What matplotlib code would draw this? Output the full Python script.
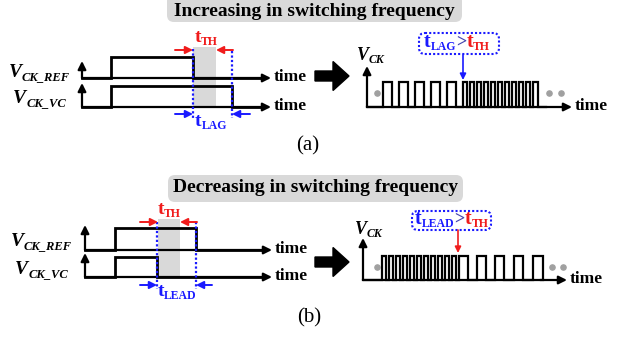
# -*- coding: utf-8 -*-
"""
clock frequency adjustment sketch: lag / lead vs. threshold window
"""
import matplotlib.pyplot as plt
from matplotlib.patches import FancyBboxPatch, Rectangle, FancyArrow

plt.rcParams['font.family'] = ['Liberation Serif', 'DejaVu Serif']

RED = '#f01c1c'
BLUE = '#1a1aff'
SHADE = '#d9d9d9'
DOT = '#a0a0a0'

titles = ['Increasing in switching frequency', 'Decreasing in switching frequency']
tags = ['(a)', '(b)']
phase_names = ['LAG', 'LEAD']
phase_colors = [BLUE, RED]  # colour of the arrow under the tip box

# left sketch: (rise, fall) of the reference clock and the VC clock
ref_edges = [[111, 193], [115, 196]]
vc_edges = [[111, 232], [115, 157]]
th_window = [[193, 216], [158, 180]]

# output clock V_CK, rising / falling edges
ck_rise = [
    [383, 399, 415, 431, 447, 463, 470, 477, 484, 491, 498, 505, 512, 519, 526, 533],
    [382, 389, 396, 403, 410, 417, 424, 431, 438, 445, 452, 459, 477, 495, 514, 533],
]
ck_fall = [
    [392, 408, 424, 440, 456, 467, 474, 481, 488, 495, 502, 509, 516, 523, 530, 538],
    [386, 393, 400, 407, 414, 421, 428, 435, 442, 449, 456, 468, 486, 504, 523, 543],
]

# layout of the two panels (pixels)
lay = [
    dict(box=(167, -6, 295, 28), title_y=12,
         x0=82, ref_lo=78, ref_hi=57, ref_tip=61, vc_lo=107, vc_hi=86, vc_tip=83, x_end=271,
         lab_x=70, lab_y=(77, 103), time_x=274,
         shade=(47, 107), dotted=((49, 118), (51, 118)), th_y=50, th_txt=(206, 42),
         ph_y=114, ph_txt=(211, 126), ph_right=250, th_left=175,
         big_y=76,
         cx0=367, ck_lo=107, ck_hi=82, ck_tip=66, cx_end=572, ctime_x=575,
         vck=(357, 60), dots=((377, 549, 561), 93),
         tipbox=(419, 33, 80, 21), tip_txt=(424, 47), tip_arrow=(463, 55, 80),
         tag=(308, 150)),
    dict(box=(168, 175, 295, 27), title_y=188,
         x0=85, ref_lo=250, ref_hi=228, ref_tip=225, vc_lo=277, vc_hi=257, vc_tip=253, x_end=272,
         lab_x=72, lab_y=(246, 274), time_x=275,
         shade=(219, 277), dotted=((222, 289), (222, 289)), th_y=222, th_txt=(169, 214),
         ph_y=285, ph_txt=(177, 296), ph_right=212, th_left=140,
         big_y=262,
         cx0=363, ck_lo=280, ck_hi=256, ck_tip=238, cx_end=567, ctime_x=570,
         vck=(355, 234), dots=((377, 552, 563), 267),
         tipbox=(412, 211, 79, 19), tip_txt=(415, 224), tip_arrow=(458, 230, 253),
         tag=(309, 322)),
]

fig = plt.figure(figsize=(6.3, 3.39), dpi=100)
ax = fig.add_axes([0, 0, 1, 1])
ax.set_xlim(0, 630)
ax.set_ylim(339, 0)
ax.axis('off')
r = fig.canvas.get_renderer()


def sub_text(x, y, main, sub, color='k', size=14, subsize=8.5, style='normal', ha='left', z=5):
    # letter + lowered subscript, y is the baseline
    kw = dict(color=color, fontweight='bold', fontstyle=style, va='baseline', zorder=z)
    t1 = ax.text(0, y, main, fontsize=size, **kw)
    t2 = ax.text(0, y + size * 0.22, sub, fontsize=subsize, **kw)
    w1 = t1.get_window_extent(r).width
    w2 = t2.get_window_extent(r).width
    if ha == 'center':
        x -= (w1 + w2) / 2
    elif ha == 'right':
        x -= w1 + w2
    t1.set_x(x)
    t2.set_x(x + w1)
    return x + w1 + w2


def arrow(x1, y1, x2, y2, color='k', lw=1.4, ms=11):
    ax.annotate('', xy=(x2, y2), xytext=(x1, y1),
                arrowprops=dict(arrowstyle='-|>', color=color, lw=lw, mutation_scale=ms,
                                shrinkA=0, shrinkB=0), zorder=4)


def step(x0, x_end, lo, hi, rises, falls, lw=2.0):
    xs, ys = [x0], [lo]
    for a, b in zip(rises, falls):
        xs += [a, a, b, b]
        ys += [lo, hi, hi, lo]
    xs.append(x_end - 6)
    ys.append(lo)
    ax.plot(xs, ys, color='k', lw=lw, solid_joinstyle='miter', zorder=3)


for i, L in enumerate(lay):
    # title in grey rounded box
    bx, by, bw, bh = L['box']
    ax.add_patch(FancyBboxPatch((bx, by), bw, bh, boxstyle='round,pad=0,rounding_size=7',
                                fc=SHADE, ec='none', zorder=1))
    ax.text(bx + bw / 2, L['title_y'], titles[i], ha='center', va='center',
            fontsize=14, fontweight='bold', zorder=2)

    # ---- left: the two clocks
    x0 = L['x0']
    s0, s1 = th_window[i]
    ax.add_patch(Rectangle((s0, L['shade'][0]), s1 - s0, L['shade'][1] - L['shade'][0],
                           fc=SHADE, ec='none', zorder=1))
    for lo, tip in [(L['ref_lo'], L['ref_tip']), (L['vc_lo'], L['vc_tip'])]:
        arrow(x0, lo, x0, tip, lw=1.6, ms=12)
        arrow(x0, lo, L['x_end'], lo, lw=1.6, ms=12)
        ax.text(L['time_x'], lo - 1, 'time', fontsize=12.5, fontweight='bold', va='center')
    step(x0, L['x_end'], L['ref_lo'], L['ref_hi'], [ref_edges[i][0]], [ref_edges[i][1]])
    step(x0, L['x_end'], L['vc_lo'], L['vc_hi'], [vc_edges[i][0]], [vc_edges[i][1]])
    sub_text(L['lab_x'], L['lab_y'][0], 'V', 'CK_REF', size=14, subsize=9, style='italic', ha='right')
    sub_text(L['lab_x'] - 4, L['lab_y'][1], 'V', 'CK_VC', size=14, subsize=9, style='italic', ha='right')

    # phase difference markers
    p0 = min(ref_edges[i][1], vc_edges[i][1])
    p1 = max(ref_edges[i][1], vc_edges[i][1])
    for xd, (ya, yb) in zip([p0, p1], L['dotted']):
        ax.plot([xd, xd], [ya, yb], color=BLUE, lw=1.6, ls=(0, (1, 1)), zorder=4)
    arrow(L['th_left'], L['th_y'], s0, L['th_y'], RED)
    arrow(p1 + 1, L['th_y'], s1, L['th_y'], RED)
    sub_text(*L['th_txt'], 't', 'TH', color=RED, ha='center')
    arrow(L['th_left'], L['ph_y'], p0, L['ph_y'], BLUE)
    arrow(L['ph_right'], L['ph_y'], p1, L['ph_y'], BLUE)
    sub_text(*L['ph_txt'], 't', phase_names[i], color=BLUE, ha='center')

    # big black arrow
    ax.add_patch(FancyArrow(315, L['big_y'], 34, 0, width=10, head_width=29, head_length=16,
                            length_includes_head=True, fc='k', ec='k', zorder=3))

    # ---- right: output clock
    cx0 = L['cx0']
    arrow(cx0, L['ck_lo'], cx0, L['ck_tip'], lw=1.6, ms=12)
    arrow(cx0, L['ck_lo'], L['cx_end'], L['ck_lo'], lw=1.6, ms=12)
    step(cx0, L['cx_end'] - 20, L['ck_lo'], L['ck_hi'], ck_rise[i], ck_fall[i], lw=1.6)
    ax.text(L['ctime_x'], L['ck_lo'] - 1, 'time', fontsize=12.5, fontweight='bold', va='center')
    sub_text(*L['vck'], 'V', 'CK', size=13, subsize=8.5, style='italic')
    dx, dy = L['dots']
    ax.scatter(dx, [dy] * len(dx), s=14, color=DOT, zorder=3)

    # tip box  t_LAG > t_TH
    tx, ty, tw, th = L['tipbox']
    ax.add_patch(FancyBboxPatch((tx, ty), tw, th, boxstyle='round,pad=0,rounding_size=6',
                                fc='none', ec=BLUE, lw=1.5, ls=(0, (1, 1)), zorder=3))
    xx, yy = L['tip_txt']
    xx = sub_text(xx, yy, 't', phase_names[i], color=BLUE, size=14.5, subsize=8.5)
    gt = ax.text(xx, yy, '>', fontsize=13, fontweight='bold', color='#4545b0', va='baseline')
    xx += gt.get_window_extent(r).width
    sub_text(xx, yy, 't', 'TH', color=RED, size=14.5, subsize=8.5)
    ax_, ay0, ay1 = L['tip_arrow']
    ax.annotate('', xy=(ax_, ay1), xytext=(ax_, ay0),
                arrowprops=dict(arrowstyle='-|>', color=phase_colors[i], lw=1.2,
                                mutation_scale=9, shrinkA=0, shrinkB=0), zorder=4)

    ax.text(*L['tag'], tags[i], fontsize=15, ha='center', va='baseline')

fig.savefig('out.png', dpi=100)
